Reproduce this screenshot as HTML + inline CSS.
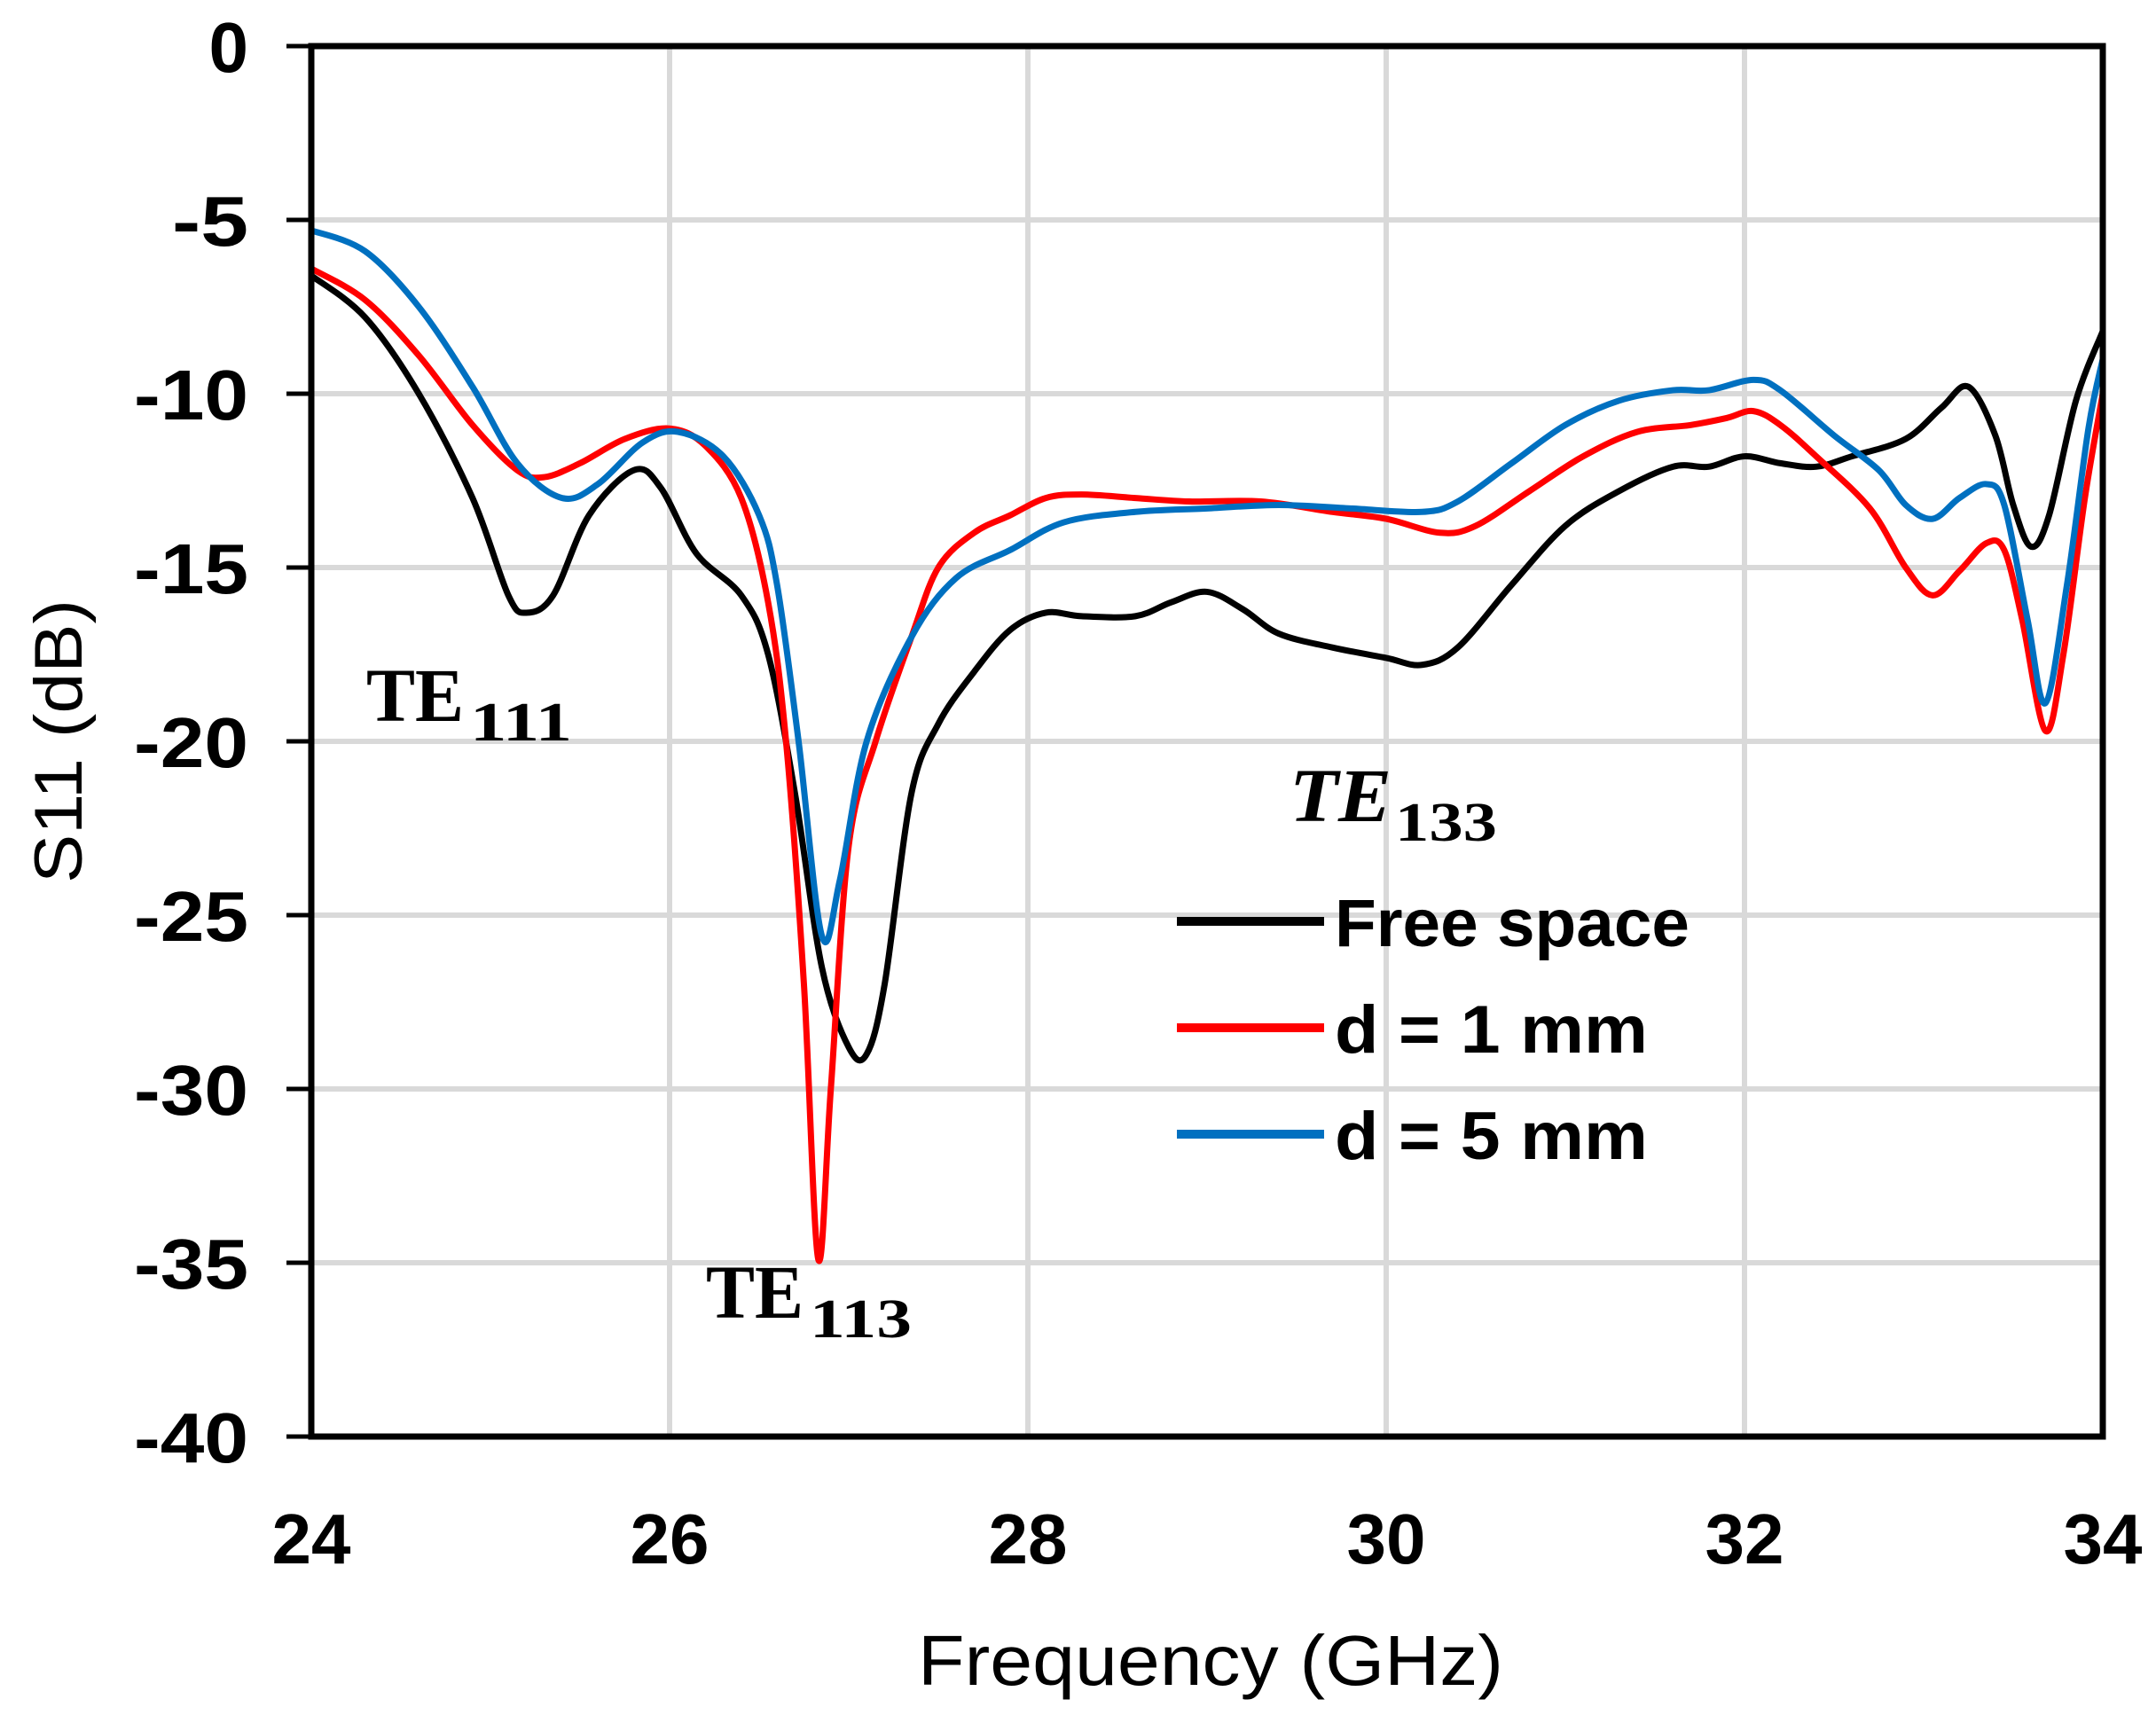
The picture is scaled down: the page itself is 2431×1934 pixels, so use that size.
<!DOCTYPE html>
<html><head><meta charset="utf-8"><style>
html,body{margin:0;padding:0;background:#fff;}
svg{display:block;}
text{font-family:"Liberation Sans",sans-serif;}
.tk{font-weight:bold;font-size:80px;fill:#000;}
.sr{font-family:"Liberation Serif",serif;font-weight:bold;fill:#000;}
</style></head><body>
<svg id="s" width="2431" height="1934" viewBox="0 0 2431 1934" xmlns="http://www.w3.org/2000/svg">
<g id="grid" stroke="#d9d9d9" stroke-width="6"></g>
<g id="series" fill="none" stroke-width="7" stroke-linejoin="round" stroke-linecap="round"></g>
<g stroke="#000" stroke-width="7" fill="none">
<rect x="351" y="52" width="2020" height="1568"/>
</g>
<g id="ticks" stroke="#000" stroke-width="5"></g>
<g id="labels"></g>
<!-- legend -->
<line x1="1327" y1="1039" x2="1493" y2="1039" stroke="#000" stroke-width="10"/>
<line x1="1327" y1="1159" x2="1493" y2="1159" stroke="#ff0000" stroke-width="10"/>
<line x1="1327" y1="1279" x2="1493" y2="1279" stroke="#0070c0" stroke-width="10"/>
<text x="1505" y="1067" font-size="76" font-weight="bold" textLength="400" lengthAdjust="spacingAndGlyphs">Free space</text>
<text x="1505" y="1187" font-size="76" font-weight="bold" textLength="353" lengthAdjust="spacingAndGlyphs">d = 1 mm</text>
<text x="1505" y="1307" font-size="76" font-weight="bold" textLength="353" lengthAdjust="spacingAndGlyphs">d = 5 mm</text>
<!-- annotations -->
<text class="sr" x="413" y="813" font-size="86" textLength="110" lengthAdjust="spacingAndGlyphs">TE</text>
<text class="sr" x="530" y="835" font-size="62" textLength="115" lengthAdjust="spacingAndGlyphs">111</text>
<text class="sr" x="796" y="1486" font-size="86" textLength="110" lengthAdjust="spacingAndGlyphs">TE</text>
<text class="sr" x="913" y="1508" font-size="62" textLength="115" lengthAdjust="spacingAndGlyphs">113</text>
<text class="sr" x="1454" y="926" font-size="86" font-style="italic" textLength="115" lengthAdjust="spacingAndGlyphs">TE</text>
<text class="sr" x="1573" y="948" font-size="62" textLength="115" lengthAdjust="spacingAndGlyphs">133</text>
<!-- axis titles -->
<text x="1365" y="1900" font-size="80" text-anchor="middle" textLength="660" lengthAdjust="spacingAndGlyphs">Frequency (GHz)</text>
<text transform="translate(92,836) rotate(-90)" font-size="76" text-anchor="middle" textLength="320" lengthAdjust="spacingAndGlyphs">S11 (dB)</text>
</svg>
<script>
var NS="http://www.w3.org/2000/svg";
function X(f){return 351+(f-24)*202;}
function Y(d){return 52+(-d)*39.2;}
function el(p,t,a,txt){var e=document.createElementNS(NS,t);for(var k in a)e.setAttribute(k,a[k]);if(txt!==undefined)e.textContent=txt;document.getElementById(p).appendChild(e);}
for(var i=1;i<8;i++){el("grid","line",{x1:351,x2:2371,y1:Y(-5*i),y2:Y(-5*i)});}
for(var f=26;f<34;f+=2){el("grid","line",{x1:X(f),x2:X(f),y1:52,y2:1620});}
for(var i=0;i<=8;i++){el("ticks","line",{x1:323,x2:351,y1:Y(-5*i),y2:Y(-5*i)});
 var a={x:280,y:Y(-5*i)+29,"class":"tk","text-anchor":"end"};
 if(i==1){a.textLength=86;a.lengthAdjust="spacingAndGlyphs";}
 else if(i>1){a.textLength=129;a.lengthAdjust="spacingAndGlyphs";}
 el("labels","text",a,i==0?"0":"-"+(5*i));}
for(var f=24;f<=34;f+=2){el("labels","text",{x:X(f),y:1763,"class":"tk","text-anchor":"middle"},""+f);}
function path(pts){var P=pts.map(function(p){return [X(p[0]),Y(p[1])];});var d="M"+P[0][0]+","+P[0][1];
for(var i=0;i<P.length-1;i++){var p0=P[i-1]||P[i],p1=P[i],p2=P[i+1],p3=P[i+2]||p2;var t=6;
d+=" C"+(p1[0]+(p2[0]-p0[0])/t)+","+(p1[1]+(p2[1]-p0[1])/t)+" "+(p2[0]-(p3[0]-p1[0])/t)+","+(p2[1]-(p3[1]-p1[1])/t)+" "+p2[0]+","+p2[1];}
return d;}
var black=[[24,-6.6],[24.3,-7.8],[24.6,-10],[24.9,-13],[25.1,-15.8],[25.2,-16.3],[25.35,-15.8],[25.55,-13.5],[25.8,-12.2],[25.95,-12.7],[26.15,-14.6],[26.4,-15.8],[26.55,-17.5],[26.7,-21.5],[26.85,-26.5],[27.0,-28.8],[27.1,-29.0],[27.2,-27],[27.35,-21.5],[27.5,-19.5],[27.7,-18],[27.9,-16.8],[28.1,-16.3],[28.3,-16.4],[28.6,-16.4],[28.8,-16],[29.0,-15.7],[29.2,-16.2],[29.4,-16.9],[29.7,-17.3],[30.0,-17.6],[30.2,-17.8],[30.4,-17.3],[30.7,-15.5],[31.0,-13.8],[31.3,-12.8],[31.6,-12.1],[31.8,-12.1],[32.0,-11.8],[32.2,-12.0],[32.4,-12.1],[32.6,-11.8],[32.9,-11.3],[33.1,-10.4],[33.25,-9.8],[33.4,-11.2],[33.5,-13.2],[33.6,-14.4],[33.7,-13.5],[33.85,-10.2],[34,-8.2]];
var red=[[24,-6.4],[24.3,-7.3],[24.6,-8.9],[24.9,-10.9],[25.15,-12.2],[25.3,-12.4],[25.5,-12.0],[25.75,-11.3],[26.0,-11.0],[26.2,-11.5],[26.4,-13],[26.55,-16],[26.65,-20],[26.75,-27],[26.83,-34.9],[26.9,-30],[27.0,-23],[27.15,-20],[27.35,-17],[27.5,-15],[27.7,-14.0],[27.9,-13.5],[28.1,-13.0],[28.3,-12.9],[28.6,-13.0],[28.9,-13.1],[29.3,-13.1],[29.7,-13.4],[30.0,-13.6],[30.3,-14.0],[30.5,-13.8],[30.8,-12.8],[31.1,-11.8],[31.4,-11.1],[31.7,-10.9],[31.9,-10.7],[32.05,-10.5],[32.2,-10.9],[32.4,-11.8],[32.7,-13.3],[32.9,-15],[33.05,-15.8],[33.2,-15.1],[33.35,-14.3],[33.45,-14.5],[33.55,-16.5],[33.68,-19.7],[33.78,-17.5],[33.9,-13],[34,-10]];
var blue=[[24,-5.3],[24.3,-5.9],[24.6,-7.5],[24.9,-9.8],[25.15,-12],[25.4,-13.0],[25.6,-12.6],[25.85,-11.4],[26.05,-11.1],[26.3,-11.8],[26.5,-13.5],[26.6,-15.5],[26.72,-20],[26.85,-25.6],[26.95,-24],[27.1,-20],[27.35,-17],[27.6,-15.3],[27.9,-14.5],[28.2,-13.7],[28.6,-13.4],[29.0,-13.3],[29.4,-13.2],[29.8,-13.3],[30.2,-13.4],[30.4,-13.1],[30.7,-12],[31.0,-10.9],[31.3,-10.2],[31.6,-9.9],[31.8,-9.9],[32.05,-9.6],[32.2,-9.9],[32.5,-11.2],[32.75,-12.2],[32.9,-13.2],[33.05,-13.6],[33.2,-13.0],[33.35,-12.6],[33.45,-13.2],[33.58,-16.5],[33.68,-18.9],[33.8,-15.5],[33.92,-11],[34,-9]];
el("series","path",{d:path(black),stroke:"#000"});
el("series","path",{d:path(red),stroke:"#ff0000"});
el("series","path",{d:path(blue),stroke:"#0070c0"});
</script>
</body></html>
